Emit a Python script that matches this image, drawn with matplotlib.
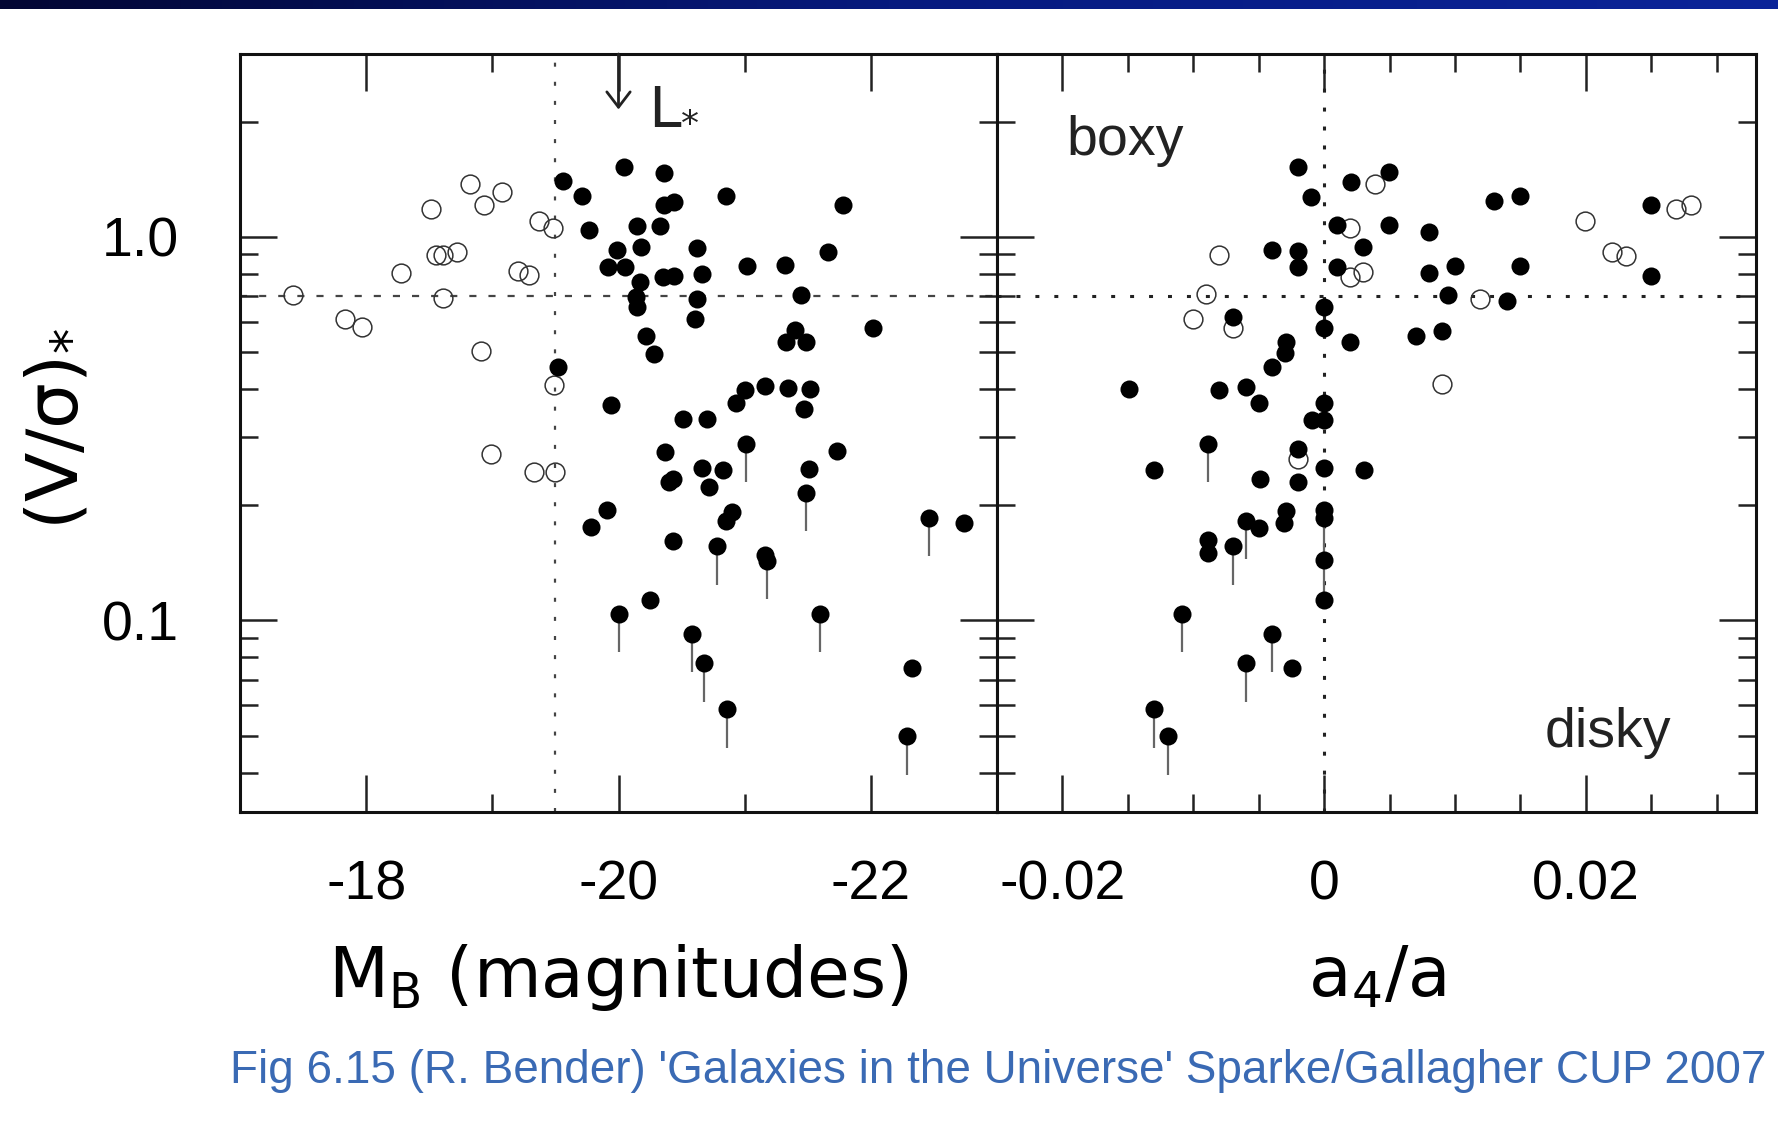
import numpy as np
import matplotlib
matplotlib.use('Agg')
import matplotlib.pyplot as plt
from matplotlib.ticker import LogLocator, MultipleLocator, FixedLocator, NullFormatter
from matplotlib.colors import LinearSegmentedColormap
from matplotlib.transforms import offset_copy

plt.rcParams['font.family'] = ['Liberation Sans', 'DejaVu Sans']
plt.rcParams['axes.unicode_minus'] = False
plt.rcParams['mathtext.fontset'] = 'dejavusans'

# ---------------- data ----------------
# Left panel: absolute B magnitude vs (V/sigma)*
MB_open = [-17.42, -17.83, -17.97, -18.28, -18.51, -18.55, -18.61, -18.72, -18.61, -18.82,
           -18.93, -19.08, -18.91, -19.20, -19.29, -19.37, -19.48, -19.49, -19.33, -19.50,
           -18.99]
VS_open_L = [0.706, 0.611, 0.582, 0.805, 1.18, 0.897, 0.897, 0.913, 0.693, 1.37,
             1.21, 1.31, 0.504, 0.815, 0.796, 1.10, 1.056, 0.411, 0.243, 0.243,
             0.271]

MB_fill = [-19.56, -19.71, -20.04, -20.36, -19.77, -20.15, -20.33, -20.36, -20.44, -20.85,
           -21.78, -19.99, -20.18, -19.92, -20.05, -20.62, -20.17, -20.35, -20.44, -20.66,
           -21.02, -21.32, -21.66, -20.14, -20.15, -20.62, -20.61, -21.45, -20.22, -20.28,
           -21.33, -21.40, -21.49, -22.02, -19.52, -19.94, -20.51, -20.70, -20.93, -21.00,
           -21.16, -21.34, -21.52, -21.47, -20.37, -20.43, -20.40, -20.66, -20.83, -20.72,
           -21.01, -21.73, -21.51, -21.49, -20.90, -20.85, -19.91, -19.78, -20.43, -20.78,
           -21.16, -21.18, -22.46, -22.74, -20.25, -20.00, -21.60, -20.58, -20.68, -20.86,
           -22.33, -22.29]
VS_fill_L = [1.40, 1.28, 1.52, 1.47, 1.04, 1.07, 1.07, 1.21, 1.23, 1.28,
             1.21, 0.925, 0.942, 0.835, 0.835, 0.936, 0.763, 0.786, 0.791, 0.80,
             0.840, 0.845, 0.914, 0.697, 0.656, 0.689, 0.611, 0.705, 0.551, 0.495,
             0.532, 0.572, 0.532, 0.578, 0.458, 0.364, 0.335, 0.335, 0.369, 0.399,
             0.408, 0.403, 0.401, 0.356, 0.275, 0.233, 0.229, 0.249, 0.246, 0.222,
             0.288, 0.276, 0.248, 0.215, 0.191, 0.182, 0.194, 0.175, 0.161, 0.156,
             0.148, 0.143, 0.185, 0.179, 0.113, 0.104, 0.104, 0.092, 0.0772, 0.0586,
             0.075, 0.0498]
limit_L = [0, 0, 0, 0, 0, 0, 0, 0, 0, 0,
           0, 0, 0, 0, 0, 0, 0, 0, 0, 0,
           0, 0, 0, 0, 0, 0, 0, 0, 0, 0,
           0, 0, 0, 0, 0, 0, 0, 0, 0, 0,
           0, 0, 0, 0, 0, 0, 0, 0, 0, 0,
           1, 0, 0, 1, 0, 0, 0, 0, 0, 1,
           0, 1, 1, 0, 0, 1, 1, 1, 1, 1,
           0, 1]

# Right panel: isophote shape a4/a vs (V/sigma)*
a4_open = [-0.00802, -0.0090, -0.0100, -0.00695, 0.00198, 0.00298, 0.00198, 0.0039,
           -0.00198, 0.0199, 0.0269, 0.0280, 0.0220, 0.0231, 0.0119, 0.0090]
VS_open_R = [0.897, 0.710, 0.611, 0.578, 1.056, 0.810, 0.786, 1.37,
             0.263, 1.10, 1.18, 1.21, 0.913, 0.892, 0.689, 0.413]

a4_fill = [-0.00198, -0.00099, 0.00206, 0.00099, 0.00298, -0.00397, -0.00198, -0.00198, 0.00099, 0.0,
           0.0, 0.00198, -0.00695, -0.0029, -0.0030, -0.00397, -0.0149, -0.00802, -0.00595, -0.00496,
           0.0, -0.0009, 0.0, -0.0089, -0.00198, -0.0130, -0.00489, -0.00198, 0.0, 0.00305,
           -0.0029, -0.0031, -0.00595, -0.00496, 0.0, 0.0, -0.0089, -0.0089, -0.00695, 0.0,
           0.0, -0.0109, -0.00397, -0.00595, -0.00244, -0.0130, -0.0119, 0.00496, 0.00496, 0.0080,
           0.0080, 0.0100, 0.0130, 0.0150, 0.0150, 0.0250, 0.0250, 0.0095, 0.0140, 0.0070,
           0.0090]
VS_fill_R = [1.52, 1.27, 1.39, 1.075, 0.942, 0.925, 0.919, 0.835, 0.835, 0.656,
             0.578, 0.532, 0.618, 0.532, 0.498, 0.458, 0.401, 0.399, 0.406, 0.369,
             0.369, 0.333, 0.333, 0.288, 0.280, 0.246, 0.233, 0.229, 0.249, 0.246,
             0.193, 0.179, 0.182, 0.174, 0.194, 0.185, 0.162, 0.150, 0.156, 0.144,
             0.113, 0.104, 0.092, 0.0772, 0.075, 0.0586, 0.0498, 1.48, 1.075, 1.03,
             0.805, 0.840, 1.24, 1.28, 0.840, 1.21, 0.791, 0.706, 0.681, 0.551,
             0.568]
limit_R = [0, 0, 0, 0, 0, 0, 0, 0, 0, 0,
           0, 0, 0, 0, 0, 0, 0, 0, 0, 0,
           0, 0, 0, 1, 0, 0, 0, 0, 0, 0,
           0, 0, 1, 0, 0, 1, 0, 0, 1, 1,
           0, 1, 1, 1, 0, 1, 1, 0, 0, 0,
           0, 0, 0, 0, 0, 0, 0, 0, 0, 0,
           0]

ytick_vals = [0.1, 1.0]
ytick_labels = ['0.1', '1.0']
xtickL_vals = [-18, -20, -22]
xtickL_labels = ['-18', '-20', '-22']
xtickL_minor = [-17, -19, -21, -23]
xtickR_vals = [-0.02, 0.0, 0.02]
xtickR_labels = ['-0.02', '0', '0.02']
MB_line = -19.5
a4_line = 0.0
VS_line = 0.7
Lstar_MB = -20.0
caption = "Fig 6.15 (R. Bender) 'Galaxies in the Universe' Sparke/Gallagher CUP 2007"

# ---------------- figure ----------------
W, H = 1778, 1126
fig = plt.figure(figsize=(W / 100, H / 100), dpi=100)
fig.patch.set_facecolor('white')

# top gradient banner
band = fig.add_axes([0, 1 - 9 / H, 1, 9 / H])
cmap = LinearSegmentedColormap.from_list('band', ['#020633', '#061a7e', '#0b2499'])
band.imshow(np.linspace(0, 1, 256)[None, :], aspect='auto', cmap=cmap)
band.axis('off')

x0, x1, x2 = 240, 997, 1756
ytop, ybot = 54, 812
axL = fig.add_axes([x0 / W, 1 - ybot / H, (x1 - x0) / W, (ybot - ytop) / H])
axR = fig.add_axes([x1 / W, 1 - ybot / H, (x2 - x1) / W, (ybot - ytop) / H])


def style(ax):
    ax.set_yscale('log')
    ax.set_ylim(0.0316, 3.0)
    for s in ax.spines.values():
        s.set_linewidth(2.2)
        s.set_color('#111111')
    ax.tick_params(which='both', direction='in', top=True, right=True,
                   width=1.8, color='#222222', labelsize=40)
    ax.tick_params(which='major', length=26.5)
    ax.tick_params(which='minor', length=13.3)
    ax.tick_params(axis='x', which='both', pad=34)
    ax.tick_params(axis='y', which='both', pad=44)
    ax.yaxis.set_major_locator(FixedLocator(ytick_vals))
    ax.yaxis.set_minor_locator(LogLocator(base=10, subs=np.arange(2, 10)))
    ax.yaxis.set_minor_formatter(NullFormatter())


style(axL)
style(axR)

# left panel
axL.set_xlim(-17, -23)
axL.set_xticks(xtickL_vals, xtickL_labels)
axL.xaxis.set_minor_locator(FixedLocator(xtickL_minor))
axL.set_yticks(ytick_vals, ytick_labels)
axL.yaxis.set_minor_formatter(NullFormatter())

axL.axvline(MB_line, color='#444444', lw=1.6, ls=(0, (1.8, 6.8)), zorder=1)
axL.axhline(VS_line, color='#444444', lw=1.6, ls=(0, (3.2, 5.4)), zorder=1)

axL.plot(MB_open, VS_open_L, 'o', ms=13.5, mfc='none', mec='#333333', mew=1.1, zorder=3)
mbf = np.array(MB_fill)
vsf = np.array(VS_fill_L)
lim = np.array(limit_L, dtype=bool)
axL.vlines(mbf[lim], vsf[lim] * 10 ** -0.1, vsf[lim], color='#666666', lw=1.6, zorder=3.5)
axL.plot(mbf, vsf, 'o', ms=13, color='black', mew=0, zorder=4)

axL.annotate('', xy=(Lstar_MB, 2.15), xytext=(Lstar_MB, 3.0),
             arrowprops=dict(arrowstyle='->,head_length=0.55,head_width=0.42',
                             lw=2.0, color='#222222', shrinkA=0, shrinkB=0,
                             mutation_scale=20), annotation_clip=False)
# L_* label: "L" plus a small subscript star
axL.text(-20.245, 1.94, 'L', fontsize=43, family='Liberation Sans',
         va='baseline', ha='left', color='#222222', zorder=6)
star_tr = offset_copy(axL.transData, fig=fig, x=23, y=-6, units='points')
axL.text(-20.245, 1.94, '*', fontsize=26, family='DejaVu Sans',
         va='baseline', ha='left', color='#222222', transform=star_tr, zorder=6)

axL.set_xlabel(r'M$_{\mathrm{B}}$ (magnitudes)', fontsize=50, family='DejaVu Sans')
axL.xaxis.label.set_va('baseline')
axL.xaxis.set_label_coords(0.5, -0.244)
axL.set_ylabel(r'(V/$\mathrm{\sigma}$)$_{*}$', fontsize=52, family='DejaVu Sans')
axL.yaxis.label.set_va('center')
axL.yaxis.set_label_coords(-0.2417, 0.505)

# right panel
axR.set_xlim(-0.025, 0.033)
axR.set_xticks(xtickR_vals, xtickR_labels)
axR.xaxis.set_minor_locator(MultipleLocator(0.005))
axR.tick_params(labelleft=False)
axR.yaxis.set_minor_formatter(NullFormatter())

axR.axvline(a4_line, color='#222222', lw=2.2, ls=(0, (1.3, 4.9)), zorder=1)
axR.axhline(VS_line, color='#222222', lw=2.2, ls=(0, (1.3, 4.9)), zorder=1)

axR.plot(a4_open, VS_open_R, 'o', ms=13.5, mfc='none', mec='#333333', mew=1.1, zorder=3)
a4f = np.array(a4_fill)
vsr = np.array(VS_fill_R)
limr = np.array(limit_R, dtype=bool)
axR.vlines(a4f[limr], vsr[limr] * 10 ** -0.1, vsr[limr], color='#666666', lw=1.6, zorder=3.5)
axR.plot(a4f, vsr, 'o', ms=13, color='black', mew=0, zorder=4)

axR.text(0.0909, 0.8668, 'boxy', transform=axR.transAxes, fontsize=40,
         ha='left', va='baseline', color='#222222')
axR.text(0.722, 0.0858, 'disky', transform=axR.transAxes, fontsize=40,
         ha='left', va='baseline', color='#222222')

axR.set_xlabel(r'a$_{4}$/a', fontsize=50, family='DejaVu Sans')
axR.xaxis.label.set_va('baseline')
axR.xaxis.set_label_coords(0.5, -0.244)

# caption
cap = fig.text(230 / W, 1 - 1083 / H, caption, fontsize=31, color='#3a6ab4',
               ha='left', va='baseline')
fig.canvas.draw()
bb = cap.get_window_extent()
cap.set_fontsize(31 * 1535 / bb.width)

fig.savefig('out.png', dpi=100, facecolor='white')
